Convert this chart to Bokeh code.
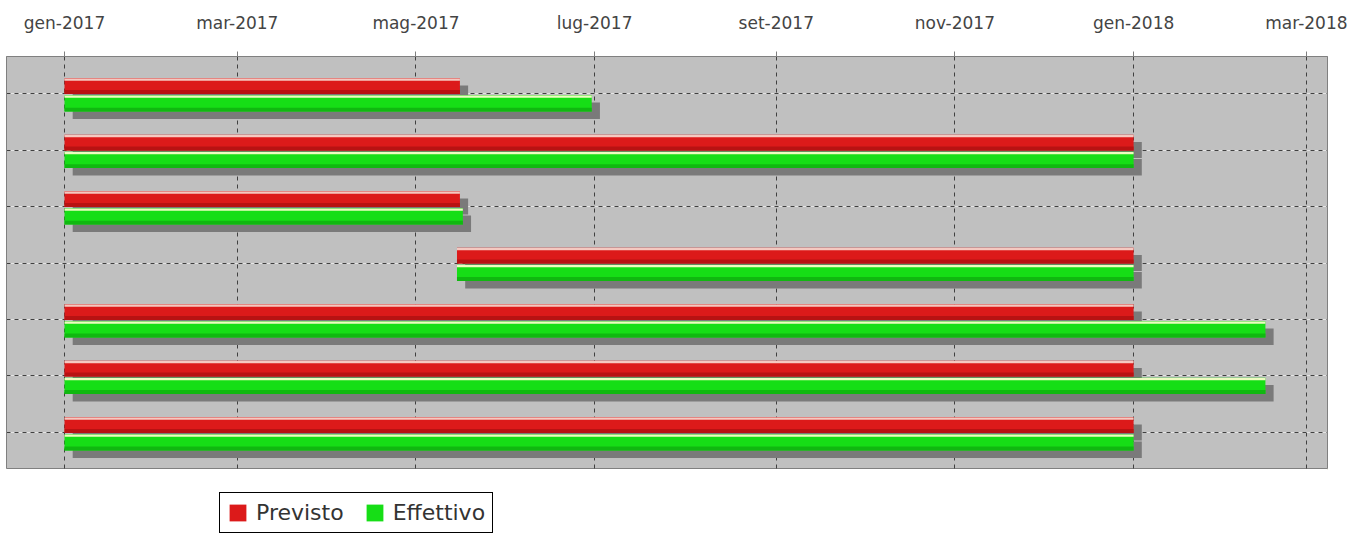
from datetime import datetime, timedelta
from bokeh.plotting import figure
from bokeh.layouts import column
from bokeh.models import (ColumnDataSource, Range1d, FixedTicker, Grid, Legend, LegendItem)
from bokeh.embed import file_html
from bokeh.resources import INLINE

# ---- data ----
rows = [0, 1, 2, 3, 4, 5, 6]
previsto_start = ["2017-01-01", "2017-01-01", "2017-01-01", "2017-05-15", "2017-01-01", "2017-01-01", "2017-01-01"]
previsto_end = ["2017-05-16", "2018-01-01", "2017-05-16", "2018-01-01", "2018-01-01", "2018-01-01", "2018-01-01"]
effettivo_start = ["2017-01-01", "2017-01-01", "2017-01-01", "2017-05-15", "2017-01-01", "2017-01-01", "2017-01-01"]
effettivo_end = ["2017-06-30", "2018-01-01", "2017-05-17", "2018-01-01", "2018-02-15", "2018-02-15", "2018-01-01"]
tick_dates = ["2017-01-01", "2017-03-01", "2017-05-01", "2017-07-01", "2017-09-01", "2017-11-01", "2018-01-01", "2018-03-01"]
tick_labels = ["gen-2017", "mar-2017", "mag-2017", "lug-2017", "set-2017", "nov-2017", "gen-2018", "mar-2018"]
series_names = ["Previsto", "Effettivo"]
series_colors = ["#dc1a1a", "#16de16"]


def d(s):
    return datetime.strptime(s, "%Y-%m-%d")


def ms(dt):
    return (dt - datetime(1970, 1, 1)).total_seconds() * 1000.0


x0 = d("2017-01-01")
W = 1351
p = figure(width=W, height=469, output_backend="svg", toolbar_location=None,
           x_axis_type="datetime", x_axis_location="above", y_axis_location=None,
           x_range=Range1d(x0 - timedelta(days=19.8), x0 + timedelta(days=431.2)),
           y_range=Range1d(6.655, -0.655),
           min_border_left=6, min_border_right=W - 1327, min_border_top=56, min_border_bottom=0)
p.background_fill_color = "#c0c0c0"
p.border_fill_color = "white"
p.outline_line_color = "#808080"
p.outline_line_width = 1

# axis
ax = p.xaxis[0]
tick_vals = [ms(d(t)) for t in tick_dates]
ax.ticker = FixedTicker(ticks=tick_vals)
ax.major_label_overrides = {v: l for v, l in zip(tick_vals, tick_labels)}
ax.major_label_text_font = "DejaVu Sans"
ax.major_label_text_font_size = "17px"
ax.major_label_text_color = "#444444"
ax.axis_line_color = "#808080"
ax.major_tick_line_color = "#808080"
ax.major_tick_out = 5
ax.major_tick_in = 0
ax.minor_tick_line_color = None
ax.major_label_standoff = 19

p.xgrid.grid_line_color = "#404040"
p.xgrid.grid_line_dash = "4 4"
p.xgrid.grid_line_width = 1
p.xgrid.ticker = FixedTicker(ticks=tick_vals)
ygrid = Grid(dimension=1, ticker=FixedTicker(ticks=rows), grid_line_color="#404040",
             grid_line_dash="4 4", grid_line_width=1)
p.add_layout(ygrid)

shadow_dx = timedelta(days=2.8)
shadow_dy = 0.13

specs = [
    (previsto_start, previsto_end, -0.27, 0.01, series_colors[0], "#f5c8c0", "#b81212"),
    (effettivo_start, effettivo_end, 0.03, 0.32, series_colors[1], "#eefcc0", "#10b810"),
]

# shadows first
for starts, ends, top, bot, c, hl, dk in specs:
    src = ColumnDataSource(dict(
        y=[r + (top + bot) / 2 + shadow_dy for r in rows],
        left=[d(s) + shadow_dx for s in starts],
        right=[d(e) + shadow_dx for e in ends]))
    p.hbar(y="y", left="left", right="right", height=bot - top, source=src,
           fill_color="#7a7a7a", line_color=None)

for starts, ends, top, bot, c, hl, dk in specs:
    src = ColumnDataSource(dict(
        y=[r + (top + bot) / 2 for r in rows],
        left=[d(s) for s in starts],
        right=[d(e) for e in ends]))
    p.hbar(y="y", left="left", right="right", height=bot - top, source=src,
           fill_color=c, line_color=None)
    src_hl = ColumnDataSource(dict(
        y=[r + top + 0.025 for r in rows],
        left=[d(s) for s in starts],
        right=[d(e) for e in ends]))
    p.hbar(y="y", left="left", right="right", height=0.04, source=src_hl,
           fill_color=hl, line_color=None)
    src_dk = ColumnDataSource(dict(
        y=[r + bot - 0.035 for r in rows],
        left=[d(s) for s in starts],
        right=[d(e) for e in ends]))
    p.hbar(y="y", left="left", right="right", height=0.07, source=src_dk,
           fill_color=dk, line_color=None)

# ---- legend strip below the chart ----
lg = figure(width=W, height=67, output_backend="svg", toolbar_location=None,
            x_axis_location=None, y_axis_location=None,
            x_range=Range1d(0, 1), y_range=Range1d(0, 1),
            min_border_left=0, min_border_right=0, min_border_top=0, min_border_bottom=0)
lg.outline_line_color = None
lg.background_fill_color = "white"
lg.border_fill_color = "white"
lg.grid.visible = False
items = []
for name, c in zip(series_names, series_colors):
    # legend-only renderer, kept outside the visible range
    r = lg.hbar(y="y", left="left", right="right", height=0.1,
                source=ColumnDataSource(dict(y=[5], left=[5], right=[6])),
                fill_color=c, line_color=None)
    items.append(LegendItem(label=name, renderers=[r], index=0))

legend = Legend(items=items, orientation="horizontal", location=(213, 3))
legend.label_text_font = "DejaVu Sans"
legend.label_text_font_size = "22px"
legend.label_text_color = "#333333"
legend.border_line_color = "black"
legend.border_line_width = 1
legend.border_line_alpha = 1.0
legend.background_fill_color = "white"
legend.glyph_width = 21
legend.glyph_height = 21
legend.label_standoff = 8
legend.spacing = 20
legend.padding = 7
legend.margin = 0
lg.add_layout(legend, "center")

open("out.html", "w").write(file_html(column(p, lg, spacing=0), INLINE))
